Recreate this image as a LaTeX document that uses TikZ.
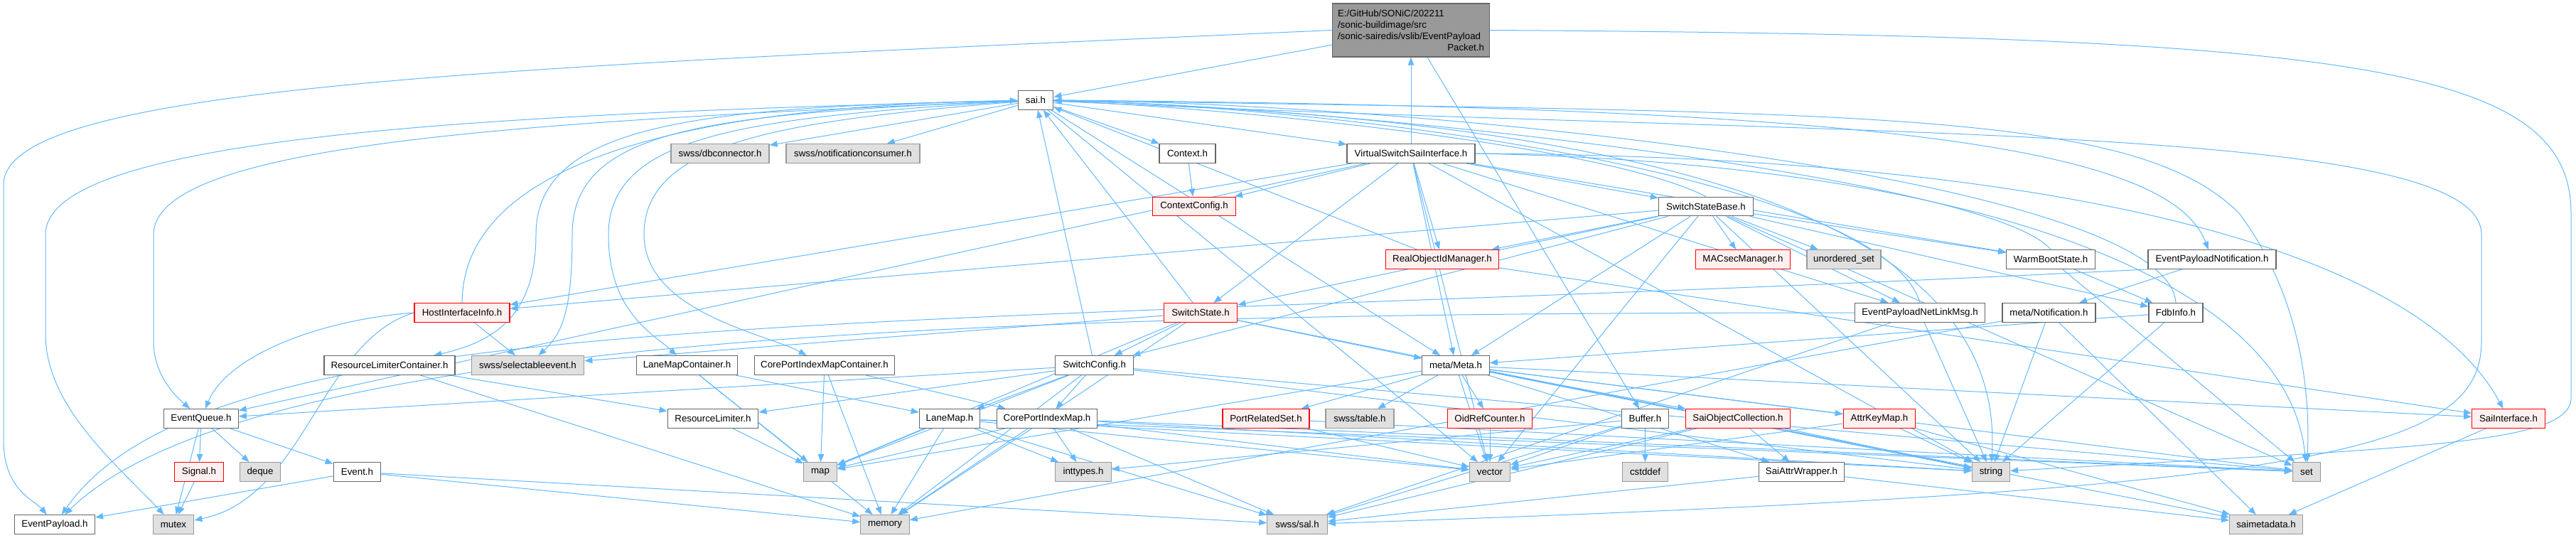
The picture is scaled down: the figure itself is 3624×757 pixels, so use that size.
\documentclass[tikz,border=0pt]{standalone}
\usepackage{fontspec}
\setmainfont{Liberation Sans}
\usetikzlibrary{arrows.meta}
\pgfdeclarelayer{background}
\pgfsetlayers{background,main}
\definecolor{incedge}{HTML}{63B8FF}
\definecolor{incgreyfill}{HTML}{E0E0E0}
\definecolor{incredfill}{HTML}{FFF0F0}
\definecolor{incrootfill}{HTML}{999999}
\definecolor{incborder}{HTML}{666666}
\definecolor{incgreyborder}{HTML}{999999}
\tikzset{
    incfile/.style={rectangle,draw=incborder,fill=white,line width=1.2pt,minimum height=26.7pt,inner sep=0pt,font=\fontsize{13.3}{16}\selectfont},
    incext/.style={incfile,draw=incgreyborder,fill=incgreyfill},
    incred/.style={incfile,draw=red,fill=incredfill},
    incroot/.style={incfile,fill=incrootfill,minimum height=75pt,text width=206pt,inner xsep=7.75pt,align=left},
    incline/.style={draw=incedge,line width=1pt,-{Triangle[length=11pt,width=8.5pt]}}
}
\begin{document}
\begin{tikzpicture}[x=1pt,y=-1pt]
        \useasboundingbox (0,0) rectangle (3624,757);
        % rows of the include graph
        \node[incroot] (pkt) at (1985,42.5) {E:/GitHub/SONiC/202211\\/sonic-buildimage/src\\/sonic-sairedis/vslib/EventPayload\\\hspace*{\fill}Packet.h\hspace*{\fill}};
        \node[incfile,minimum width=49.5pt] (sai) at (1457,141) {sai.h};
        \node[incext,minimum width=138pt] (dbconn) at (1013,216) {swss/dbconnector.h};
        \node[incext,minimum width=188pt] (notifcons) at (1200,216) {swss/notificationconsumer.h};
        \node[incfile,minimum width=79pt] (context) at (1670.5,216) {Context.h};
        \node[incfile,minimum width=180pt] (vssi) at (1985,216) {VirtualSwitchSaiInterface.h};
        \node[incred,minimum width=116.5pt] (ctxcfg) at (1680,290.5) {ContextConfig.h};
        \node[incfile,minimum width=133pt] (ssb) at (2400,290.5) {SwitchStateBase.h};
        \node[incred,minimum width=159pt] (roim) at (2029,365) {RealObjectIdManager.h};
        \node[incred,minimum width=133.6pt] (macsec) at (2452,365) {MACsecManager.h};
        \node[incext,minimum width=104pt] (unset) at (2594,365) {unordered\_set};
        \node[incfile,minimum width=124.5pt] (wbs) at (2885,365) {WarmBootState.h};
        \node[incfile,minimum width=180pt] (epn) at (3112,365) {EventPayloadNotification.h};
        \node[incred,minimum width=134pt] (hii) at (650,440) {HostInterfaceInfo.h};
        \node[incred,minimum width=103.6pt] (sstate) at (1689,440) {SwitchState.h};
        \node[incfile,minimum width=183pt] (epnlm) at (2701,440) {EventPayloadNetLinkMsg.h};
        \node[incfile,minimum width=131pt] (notif) at (2882.5,440) {meta/Notification.h};
        \node[incfile,minimum width=76pt] (fdb) at (3061,440) {FdbInfo.h};
        \node[incfile,minimum width=184pt] (rlc) at (548,514) {ResourceLimiterContainer.h};
        \node[incext,minimum width=158.5pt] (selev) at (742.5,514) {swss/selectableevent.h};
        \node[incfile,minimum width=141.5pt] (lmc) at (966.5,514) {LaneMapContainer.h};
        \node[incfile,minimum width=197.5pt] (cpimc) at (1160,514) {CorePortIndexMapContainer.h};
        \node[incfile,minimum width=110pt] (sconfig) at (1539.6,514) {SwitchConfig.h};
        \node[incfile,minimum width=94.5pt] (meta) at (2048,514) {meta/Meta.h};
        \node[incfile,minimum width=104.5pt] (eq) at (283,589) {EventQueue.h};
        \node[incfile,minimum width=127.7pt] (rl) at (1003,589) {ResourceLimiter.h};
        \node[incfile,minimum width=85.4pt] (lanemap) at (1336,589) {LaneMap.h};
        \node[incfile,minimum width=141.6pt] (cpim) at (1473,589) {CorePortIndexMap.h};
        \node[incred,minimum width=122pt] (prs) at (1781,589) {PortRelatedSet.h};
        \node[incext,minimum width=96pt] (swtable) at (1913,589) {swss/table.h};
        \node[incred,minimum width=119.4pt] (oidref) at (2096,589) {OidRefCounter.h};
        \node[incfile,minimum width=66.4pt] (buffer) at (2314.4,589) {Buffer.h};
        \node[incred,minimum width=147pt] (soc) at (2445,589) {SaiObjectCollection.h};
        \node[incred,minimum width=101.6pt] (akm) at (2644,589) {AttrKeyMap.h};
        \node[incred,minimum width=102.7pt] (sain) at (3529,589) {SaiInterface.h};
        \node[incred,minimum width=69pt] (signal) at (280,664) {Signal.h};
        \node[incext,minimum width=56.5pt] (deque) at (366,664) {deque};
        \node[incfile,minimum width=66.5pt] (event) at (502.5,664) {Event.h};
        \node[incext,minimum width=46.7pt] (map) at (1154,664) {map};
        \node[incext,minimum width=78.3pt] (inttypes) at (1524,664) {inttypes.h};
        \node[incext,minimum width=57pt] (vector) at (2096,664) {vector};
        \node[incext,minimum width=64pt] (cstddef) at (2314.5,664) {cstddef};
        \node[incfile,minimum width=120pt] (saw) at (2534.4,664) {SaiAttrWrapper.h};
        \node[incext,minimum width=53pt] (strng) at (2801,664) {string};
        \node[incext,minimum width=39pt] (set) at (3245,664) {set};
        \node[incfile,minimum width=113pt] (epl) at (77,738) {EventPayload.h};
        \node[incext,minimum width=57.7pt] (mutex) at (244,738) {mutex};
        \node[incext,minimum width=68.4pt] (memory) at (1245,738) {memory};
        \node[incext,minimum width=84.4pt] (sal) at (1825,738) {swss/sal.h};
        \node[incext,minimum width=103pt] (smd) at (3188,738) {saimetadata.h};
        \begin{pgfonlayer}{background}
        % EventPayloadPacket.h
        \draw[incline] (pkt) -- (sai);
        \draw[incline] (pkt.west) .. controls (700,95) and (5,120) .. (5,260) -- (5,620) .. controls (5,690) and (50,705) .. (epl);
        \draw[incline] (pkt) -- (buffer);
        \draw[incline] (pkt.east) .. controls (3300,50) and (3617,90) .. (3617,300) -- (3617,560) .. controls (3617,625) and (3400,630) .. (strng);
        % sai.h
        \path (sai) edge[incline] (dbconn) edge[incline] (notifcons) edge[incline] (context) edge[incline] (vssi)
            edge[incline] (meta) edge[incline] (vector);
        \draw[incline] (sai.east) .. controls (2600,150) and (3050,200) .. (epn);
        \draw[incline] (sai.east) .. controls (2600,160) and (3000,150) .. (3150,300) .. controls (3240,420) and (3250,560) .. (set);
        \draw[incline] (sai.east) .. controls (2400,170) and (2820,330) .. (strng);
        \draw[incline] (sai) .. controls (700,160) and (64,190) .. (64,330) -- (64,470) .. controls (64,570) and (160,650) .. (mutex);
        \draw[incline] (sai) .. controls (760,170) and (216,200) .. (216,330) -- (216,480) .. controls (216,530) and (250,560) .. (eq);
        \draw[incline] (sai) .. controls (1000,150) and (754,170) .. (754,330) .. controls (754,440) and (700,480) .. (rlc);
        \draw[incline] (sai) .. controls (1000,160) and (805,180) .. (805,330) .. controls (805,440) and (790,470) .. (selev);
        \draw[incline] (sai) .. controls (1050,165) and (856,190) .. (856,330) .. controls (856,440) and (920,470) .. (lmc);
        \draw[incline] (sai) .. controls (1100,170) and (906,200) .. (906,330) .. controls (906,440) and (1080,470) .. (cpimc);
        \draw[incline] (sai) .. controls (2600,195) and (3491,170) .. (3491,330) -- (3491,480) .. controls (3491,640) and (3250,690) .. (sal);
        % second row
        \path (context) edge[incline] (ctxcfg);
        \path (vssi) edge[incline] (pkt) edge[incline] (ctxcfg) edge[incline] (ssb) edge[incline] (roim) edge[incline] (wbs)
            edge[incline] (meta) edge[incline] (sstate) edge[incline] (hii) edge[incline] (eq) edge[incline] (epnlm)
            edge[incline] (vector) edge[incline] (strng);
        \draw[incline] (vssi.east) .. controls (2800,230) and (3220,400) .. (set);
        \draw[incline] (vssi.east) .. controls (2900,220) and (3400,350) .. (sain);
        \path (ssb) edge[incline] (sstate) edge[incline] (roim) edge[incline] (macsec) edge[incline] (unset)
            edge[incline] (wbs) edge[incline] (hii) edge[incline] (epnlm) edge[incline] (fdb) edge[incline] (meta)
            edge[incline] (vector) edge[incline] (strng) edge[incline] (set) edge[incline] (sconfig);
        \draw[incline] (ssb.north) .. controls (2250,200) and (1700,150) .. (sai);
        \path (roim) edge[incline] (sai) edge[incline] (sain);
        \path (wbs) edge[incline] (fdb) edge[incline] (set);
        \draw[incline] (wbs.north) .. controls (2800,250) and (1900,150) .. (sai);
        \path (epn) edge[incline] (notif);
        \draw[incline] (epn.south west) .. controls (1200,470) and (300,420) .. (epl);
        % third row
        \draw[incline] (hii) .. controls (651,250) and (900,150) .. (sai);
        \draw[incline] (hii.west) .. controls (450,450) and (320,500) .. (eq);
        \draw[incline] (hii.west) .. controls (450,480) and (430,700) .. (mutex);
        \path (hii) edge[incline] (selev);
        \path (sstate) edge[incline] (sai) edge[incline] (sconfig) edge[incline] (meta) edge[incline] (memory)
            edge[incline] (selev) edge[incline] (map) edge[incline] (strng);
        \draw[incline] (epnlm.west) .. controls (1400,440) and (350,470) .. (epl);
        \path (epnlm) edge[incline] (strng) edge[incline] (sal);
        \draw[incline] (epnlm.north) .. controls (2650,250) and (1900,150) .. (sai);
        \path (notif) edge[incline] (strng) edge[incline] (smd) edge[incline] (memory);
        \path (fdb) edge[incline] (strng) edge[incline] (meta);
        \draw[incline] (fdb.north) .. controls (3050,250) and (2000,145) .. (sai);
        % fourth row
        \path (rlc) edge[incline] (rl) edge[incline] (memory);
        \path (lmc) edge[incline] (lanemap) edge[incline] (map) edge[incline] (memory);
        \path (cpimc) edge[incline] (cpim) edge[incline] (map) edge[incline] (memory);
        \path (sconfig) edge[incline] (sai) edge[incline] (lanemap) edge[incline] (cpim) edge[incline] (rl) edge[incline] (eq)
            edge[incline] (memory) edge[incline] (map) edge[incline] (strng) edge[incline] (set);
        \path (meta) edge[incline] (prs) edge[incline] (swtable) edge[incline] (vector) edge[incline] (oidref) edge[incline] (soc)
            edge[incline] (akm) edge[incline] (saw) edge[incline] (strng) edge[incline] (set) edge[incline] (sain)
            edge[incline] (smd) edge[incline] (map);
        % fifth row
        \path (eq) edge[incline] (signal) edge[incline] (deque) edge[incline] (event) edge[incline] (mutex);
        \path (rl) edge[incline] (map);
        \path (lanemap) edge[incline] (map) edge[incline] (memory) edge[incline] (sal) edge[incline] (inttypes)
            edge[incline] (vector) edge[incline] (strng) edge[incline] (set);
        \path (cpim) edge[incline] (inttypes) edge[incline] (memory) edge[incline] (sal) edge[incline] (map)
            edge[incline] (vector) edge[incline] (strng) edge[incline] (set);
        \path (prs) edge[incline] (vector) edge[incline] (set);
        \path (oidref) edge[incline] (vector);
        \path (buffer) edge[incline] (vector) edge[incline] (cstddef) edge[incline] (sal) edge[incline] (inttypes);
        \path (soc) edge[incline] (vector) edge[incline] (saw) edge[incline] (strng) edge[incline] (sal);
        \path (akm) edge[incline] (vector) edge[incline] (strng) edge[incline] (smd);
        \path (sain) edge[incline] (smd);
        % sixth row
        \path (signal) edge[incline] (mutex);
        \path (event) edge[incline] (epl) edge[incline] (memory) edge[incline] (sal);
        \path (saw) edge[incline] (sal) edge[incline] (smd);
        \end{pgfonlayer}
    \end{tikzpicture}
\end{document}
